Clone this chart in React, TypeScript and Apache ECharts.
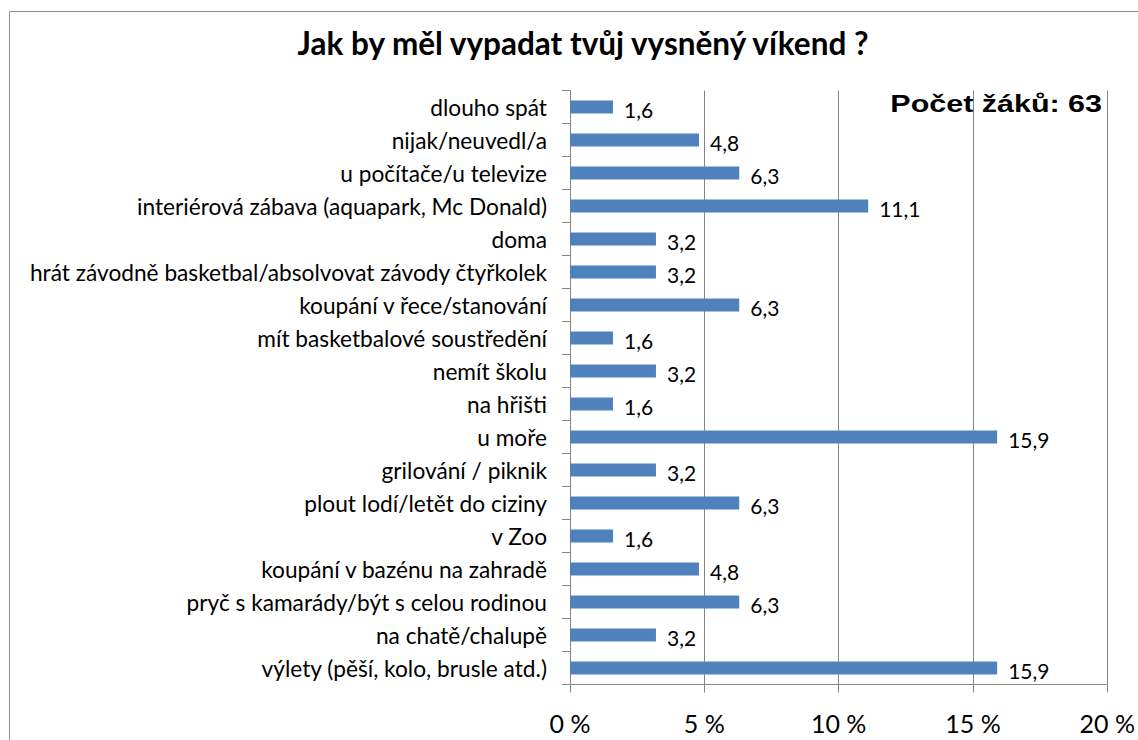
import React, { useEffect, useRef } from "react";
import * as echarts from "echarts";

const title = "Jak by měl vypadat tvůj vysněný víkend ?";
const note = "Počet žáků: 63";
const categories = [
  "dlouho spát",
  "nijak/neuvedl/a",
  "u počítače/u televize",
  "interiérová zábava (aquapark, Mc Donald)",
  "doma",
  "hrát závodně basketbal/absolvovat závody čtyřkolek",
  "koupání v řece/stanování",
  "mít basketbalové soustředění",
  "nemít školu",
  "na hřišti",
  "u moře",
  "grilování / piknik",
  "plout lodí/letět do ciziny",
  "v Zoo",
  "koupání v bazénu na zahradě",
  "pryč s kamarády/být s celou rodinou",
  "na chatě/chalupě",
  "výlety (pěší, kolo, brusle atd.)",
];
const values = [1.6, 4.8, 6.3, 11.1, 3.2, 3.2, 6.3, 1.6, 3.2, 1.6, 15.9, 3.2, 6.3, 1.6, 4.8, 6.3, 3.2, 15.9];
const axisMin = 0;
const axisMax = 20;
const axisStep = 5;

export default function App() {
  const ref = useRef<HTMLDivElement>(null);
  useEffect(() => {
    document.body.style.margin = "0";
    const chart = echarts.init(ref.current!, null, { renderer: "svg" });
    const font = "Lato, Carlito, sans-serif";
    chart.setOption({
      animation: false,
      backgroundColor: "#ffffff",
      title: {
        text: title,
        left: 578,
        textAlign: "center",
        top: 22,
        textStyle: { fontFamily: font, fontWeight: "bold", fontSize: 31.5, color: "#000" },
      },
      graphic: [
        {
          type: "rect",
          shape: { x: 9.5, y: 11.5, width: 1300, height: 900 },
          style: { fill: "none", stroke: "#8c8c8c", lineWidth: 1 },
          z: 100,
        },
        {
          type: "text",
          x: 1102,
          y: 104,
          scaleX: 1.27,
          z: 100,
          style: {
            text: note,
            fontFamily: "Liberation Sans, Arial, sans-serif",
            fontWeight: "bold",
            fontSize: 24,
            fill: "#000",
            align: "right",
            verticalAlign: "middle",
          },
        },
      ],
      grid: { left: 570, right: 28, top: 90.5, bottom: 55.5, containLabel: false },
      xAxis: {
        type: "value",
        min: axisMin,
        max: axisMax,
        interval: axisStep,
        axisLine: { show: true, lineStyle: { color: "#868686" } },
        axisTick: { show: true, length: 8, lineStyle: { color: "#868686" } },
        splitLine: { show: true, lineStyle: { color: "#868686" } },
        axisLabel: {
          formatter: "{value} %",
          fontFamily: font,
          fontSize: 25,
          color: "#000",
          margin: 26,
        },
      },
      yAxis: {
        type: "category",
        inverse: true,
        data: categories,
        axisLine: { show: true, lineStyle: { color: "#868686" } },
        axisTick: { show: true, length: 8, lineStyle: { color: "#868686" } },
        axisLabel: { fontFamily: font, fontSize: 22.7, color: "#000", margin: 23 },
      },
      series: [
        {
          type: "bar",
          data: values,
          barWidth: 13,
          itemStyle: { color: "#4f81bd" },
          label: {
            show: true,
            position: "right",
            distance: 11,
            fontFamily: font,
            fontSize: 21,
            color: "#000",
            offset: [0, 2],
            formatter: (p: any) => String(p.value).replace(".", ","),
          },
        },
      ],
    });
    return () => chart.dispose();
  }, []);
  return <div ref={ref} style={{ width: 1138, height: 740 }} />;
}
